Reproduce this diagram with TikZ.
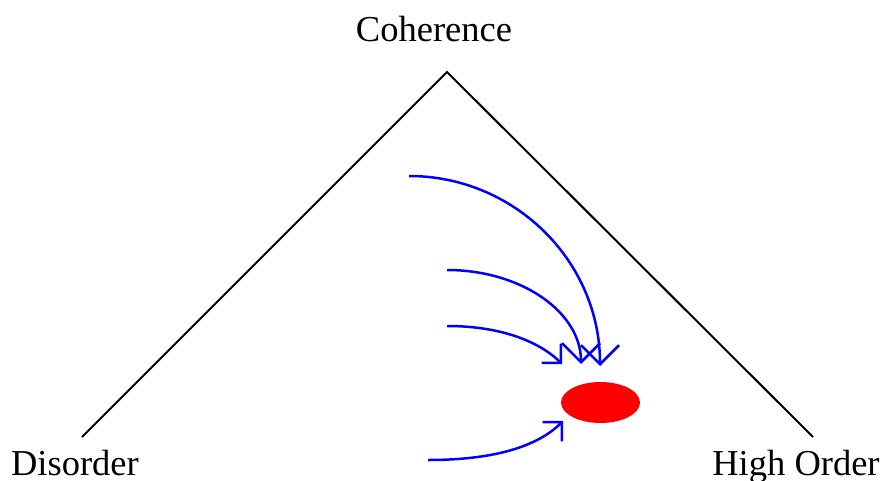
\documentclass[tikz,border=0pt]{standalone}
\usepackage{fontspec}
\setmainfont{Liberation Serif}
\usetikzlibrary{arrows.meta,shapes.geometric}
\begin{document}
\begin{tikzpicture}[x=1pt,y=-1pt,
  lbl/.style={anchor=base,inner sep=0pt,font=\fontsize{36.5}{44}\selectfont},
  edge/.style={line width=2pt,black,line join=miter},
  flow/.style={line width=2.5pt,blue},
  bighead/.style={-{Straight Barb[length=19pt,width=38pt]}},
  smallhead/.style={-{Straight Barb[length=13.4pt,width=27pt]}}]
\useasboundingbox (0,0) rectangle (882,481);
\node[lbl] (coh) at (434,42) {Coherence};
\node[lbl] (dis) at (75,475) {Disorder};
\node[lbl] (high) at (796,475) {High Order};
\coordinate (apex) at (447,72);
\coordinate (L) at (82,437);
\coordinate (R) at (813,437);
\draw[edge] (L) -- (apex) -- (R);
\node[ellipse,fill=red,draw=none,minimum width=79pt,minimum height=41pt,inner sep=0pt] (dot) at (600.5,402.5) {};
\coordinate (s1) at (409,176);
\coordinate (t1) at (600,366);
\coordinate (s2) at (447,270);
\coordinate (t2) at (581,364);
\coordinate (s3) at (447,326);
\coordinate (t3) at (562,364);
\coordinate (s4) at (428,460);
\coordinate (t4) at (563,421);
\draw[flow,bighead] (s1) .. controls (514.4,176) and (600,261.1) .. (t1);
\draw[flow,bighead] (s2) .. controls (521,270) and (581,312) .. (t2);
\draw[flow,smallhead] (s3) .. controls (510,326) and (545,347) .. (t3);
\draw[flow,smallhead] (s4) .. controls (500,460) and (540,444) .. (t4);
\end{tikzpicture}
\end{document}
